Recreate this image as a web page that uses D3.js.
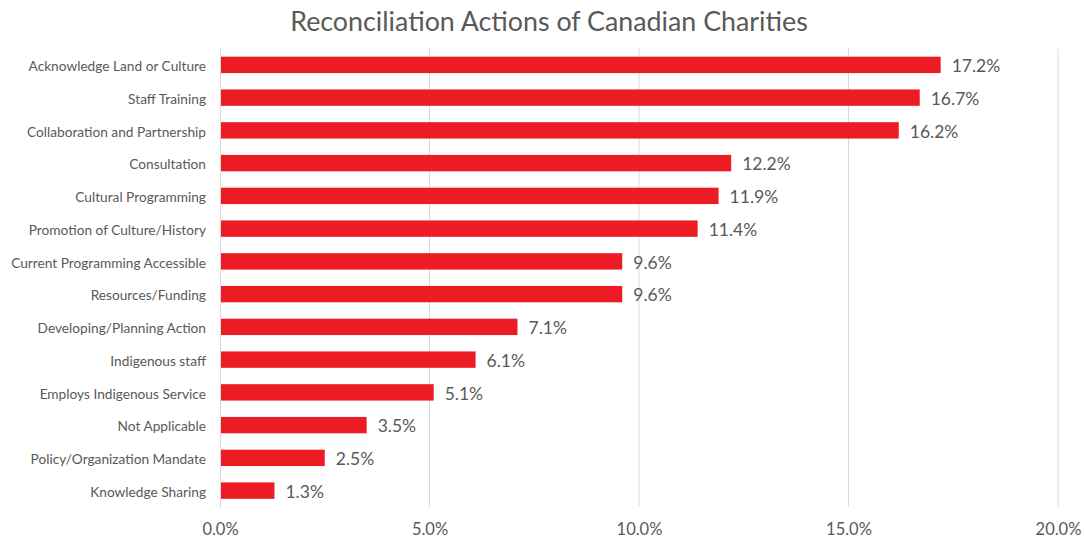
<!DOCTYPE html>
<html>
<head>
<meta charset="utf-8">
<script src="https://cdn.jsdelivr.net/npm/d3@7"></script>
<style>
  html, body { margin: 0; padding: 0; background: #fff; }
  svg { display: block; }
  text { font-family: Lato, "Open Sans", sans-serif; fill: #595959; }
</style>
</head>
<body>
<svg id="chart" width="1084" height="544"></svg>
<script>
const categories = [
  "Acknowledge Land or Culture",
  "Staff Training",
  "Collaboration and Partnership",
  "Consultation",
  "Cultural Programming",
  "Promotion of Culture/History",
  "Current Programming Accessible",
  "Resources/Funding",
  "Developing/Planning Action",
  "Indigenous staff",
  "Employs Indigenous Service",
  "Not Applicable",
  "Policy/Organization Mandate",
  "Knowledge Sharing"
];
const values = [17.2, 16.7, 16.2, 12.2, 11.9, 11.4, 9.6, 9.6, 7.1, 6.1, 5.1, 3.5, 2.5, 1.3];
const tickValues = [0, 5, 10, 15, 20];

const svg = d3.select("#chart");
const margin = { left: 220, right: 26, top: 48.5, bottom: 37 };
const W = 1084, H = 544;

const x = d3.scaleLinear().domain([0, 20]).range([margin.left, W - margin.right]);
const y = d3.scaleBand().domain(categories).range([margin.top, H - margin.bottom]).paddingInner(0.5).paddingOuter(0.25);

// title
svg.append("text")
  .attr("x", 549).attr("y", 31)
  .attr("text-anchor", "middle")
  .style("font-size", "26.8px")
  .text("Reconciliation Actions of Canadian Charities");

// vertical gridlines
svg.append("g")
  .selectAll("line")
  .data(tickValues.slice(1))
  .join("line")
  .attr("x1", d => x(d)).attr("x2", d => x(d))
  .attr("y1", margin.top).attr("y2", H - margin.bottom)
  .attr("stroke", "#d9d9d9").attr("stroke-width", 1);

// x axis tick labels
const xAxis = d3.axisBottom(x).tickValues(tickValues).tickSize(0).tickPadding(0)
  .tickFormat(d => d.toFixed(1) + "%");
const gx = svg.append("g").attr("transform", `translate(0,${H - margin.bottom + 16})`).call(xAxis);
gx.select(".domain").remove();
gx.selectAll("text").style("font-size", "16.5px").attr("fill", "#595959").attr("dy", "0.71em");

// bars
svg.append("g")
  .selectAll("rect")
  .data(values)
  .join("rect")
  .attr("x", x(0))
  .attr("y", (d, i) => y(categories[i]))
  .attr("width", d => x(d) - x(0))
  .attr("height", y.bandwidth())
  .attr("fill", "#ED1C24");

// value labels
svg.append("g")
  .selectAll("text")
  .data(values)
  .join("text")
  .attr("x", d => x(d) + 11)
  .attr("y", (d, i) => y(categories[i]) + y.bandwidth() / 2 + 1)
  .attr("dy", "0.36em")
  .style("font-size", "17.5px")
  .text(d => d.toFixed(1) + "%");

// category axis
const yAxis = d3.axisLeft(y).tickSize(0).tickPadding(14);
const gy = svg.append("g").attr("transform", `translate(${x(0)},0)`).call(yAxis);
gy.select(".domain").attr("stroke", "#d9d9d9");
gy.selectAll("text").style("font-size", "13.7px").attr("fill", "#595959").attr("dy", "0.45em");
</script>
</body>
</html>
